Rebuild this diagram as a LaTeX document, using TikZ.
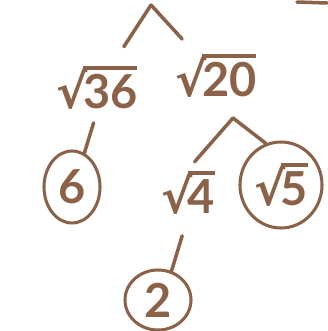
\documentclass[tikz,border=0pt]{standalone}
\usepackage{fontspec}
\setmainfont{Lato}
\newfontfamily\rootfont{DejaVu Sans}
\usetikzlibrary{shapes.geometric}
\definecolor{penbrown}{RGB}{139,98,72}
\newcommand\hroot[1]{\sbox0{#1}{\rootfont √}\kern-.1em\rlap{\rule[.84em]{\wd0}{3pt}}\usebox0}

\begin{document}
\begin{tikzpicture}[x=.03cm,y=-.03cm,line width=3pt,line cap=round,line join=round,
  num/.style={text=penbrown,inner sep=0pt,font=\fontsize{40}{44}\selectfont\bfseries},
  ring/.style={num,draw=penbrown,ellipse,line width=2.6pt}]
\useasboundingbox (0,0) rectangle (327,331);
% square roots and answers
\node[num] (r36) at (97,88){\hroot{36}};
\node[num] (r20) at (216,76){\hroot{20}};
\node[ring,minimum width=1.68cm,minimum height=2.16cm] (six) at (72,187){6};
\node[num] (r4) at (188,193){\hroot{4}};
\node[ring,minimum width=2.46cm,minimum height=2.58cm] (r5) at (281,185){\hroot{5}};
\node[ring,minimum width=1.98cm,minimum height=1.8cm] (two) at (158,300){2};
% branches
\coordinate (apex) at (151,5);\coordinate (apex2) at (233,118);
\draw[penbrown,shorten >=.63cm] (apex) -- (r36);\draw[penbrown,shorten >=.54cm] (apex) -- (r20);
\draw[penbrown,shorten <=.35cm] (r36.south) -- (six.70);
\draw[penbrown,shorten >=.3cm] (apex2) -- (r4.north);\draw[penbrown] (apex2) -- (r5.110);
\draw[penbrown,shorten <=.6cm] (r4.south) -- (two.65);
\draw[penbrown] (297,2) -- (327,3);
\end{tikzpicture}
\end{document}
